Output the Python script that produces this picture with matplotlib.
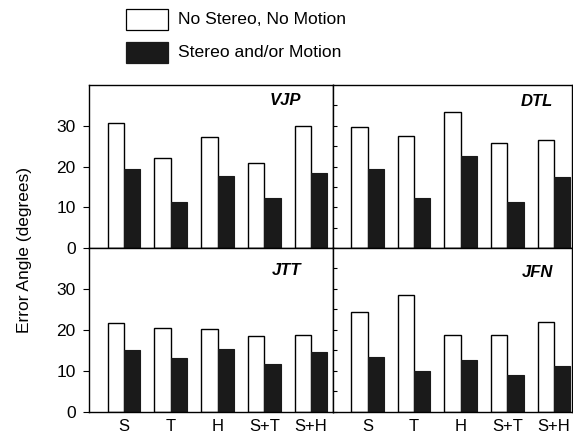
import matplotlib
matplotlib.use("Agg")
import matplotlib.pyplot as plt
from matplotlib.patches import Rectangle
import numpy as np

plt.rcParams['font.family'] = ['Liberation Sans', 'DejaVu Sans']

conditions = ['S', 'T', 'H', 'S+T', 'S+H']
subjects = ['VJP', 'DTL', 'JTT', 'JFN']
series_names = ['No Stereo, No Motion', 'Stereo and/or Motion']

# error angle in degrees
no_stereo_no_motion = {
    'VJP': [30.6, 22.2, 27.3, 20.9, 30.0],
    'DTL': [29.8, 27.4, 33.3, 25.8, 26.5],
    'JTT': [21.6, 20.5, 20.3, 18.6, 18.8],
    'JFN': [24.5, 28.5, 18.7, 18.8, 21.9],
}
stereo_or_motion = {
    'VJP': [19.5, 11.4, 17.7, 12.3, 18.5],
    'DTL': [19.4, 12.2, 22.6, 11.4, 17.5],
    'JTT': [15.0, 13.2, 15.4, 11.7, 14.7],
    'JFN': [13.5, 10.0, 12.8, 9.1, 11.1],
}

W, H = 573, 434
fig = plt.figure(figsize=(W / 100, H / 100), dpi=100)

# panel rectangles (left, bottom, width, height) in figure fraction
rects = {
    'VJP': [0.1553, 0.4286, 0.4258, 0.3755],
    'DTL': [0.5812, 0.4286, 0.4171, 0.3755],
    'JTT': [0.1553, 0.0507, 0.4258, 0.3779],
    'JFN': [0.5812, 0.0507, 0.4171, 0.3779],
}
xlims = {'VJP': (-0.75, 4.47), 'DTL': (-0.74, 4.39),
         'JTT': (-0.75, 4.47), 'JFN': (-0.74, 4.39)}
label_y = {'VJP': 0.905, 'DTL': 0.9, 'JTT': 0.86, 'JFN': 0.85}

x = np.arange(len(conditions))
w = 0.35
dark = '#1a1a1a'

for subj in subjects:
    ax = fig.add_axes(rects[subj])
    ax.bar(x - w / 2, no_stereo_no_motion[subj], w, color='white',
           edgecolor='black', linewidth=1.0)
    ax.bar(x + w / 2, stereo_or_motion[subj], w, color=dark,
           edgecolor=dark, linewidth=0.8)
    ax.set_xlim(*xlims[subj])
    ax.set_ylim(0, 40)
    for s in ax.spines.values():
        s.set_linewidth(1.0)
    ax.text(0.87 if subj in ('VJP', 'JTT') else 0.92, label_y[subj], subj,
            transform=ax.transAxes, ha='right', va='center',
            fontsize=12, fontweight='bold', fontstyle='italic')

    if subj in ('VJP', 'JTT'):
        ax.set_yticks([0, 10, 20, 30])
        ax.tick_params(axis='y', direction='out', length=4.5, width=0.8,
                       labelsize=12.5, pad=5)
    else:
        ax.set_yticks(np.arange(0, 40, 5))
        ax.set_yticklabels([])
        ax.tick_params(axis='y', direction='in', length=3, width=0.8)

    if subj in ('JTT', 'JFN'):
        ax.set_xticks(x)
        ax.set_xticklabels(conditions)
        ax.tick_params(axis='x', length=0, labelsize=12, pad=5)
    else:
        ax.set_xticks([])

fig.text(0.042, 1 - 250 / H, 'Error Angle (degrees)', rotation=90,
         ha='center', va='center', fontsize=12.5)

# legend drawn by hand at the top
for i, (name, fc) in enumerate(zip(series_names, ['white', dark])):
    top = 9 + 33 * i
    fig.add_artist(Rectangle((126 / W, 1 - (top + 21) / H), 42 / W, 21 / H,
                             transform=fig.transFigure, facecolor=fc,
                             edgecolor='black' if fc == 'white' else dark,
                             linewidth=0.9))
    fig.text(178 / W, 1 - (top + 10.5) / H, name, ha='left', va='center',
             fontsize=12.6)

fig.savefig('out.png', dpi=100)
